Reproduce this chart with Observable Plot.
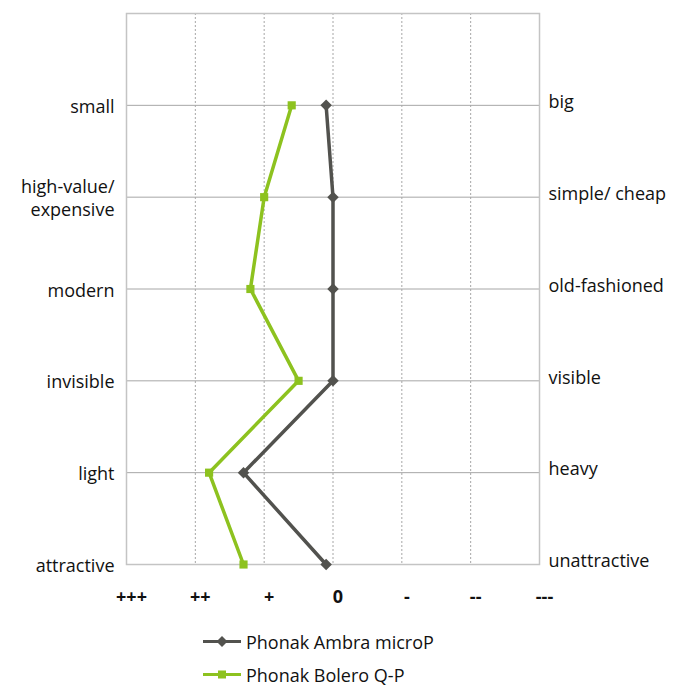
<!DOCTYPE html>
<html>
<head>
<meta charset="utf-8">
<script src="https://cdn.jsdelivr.net/npm/d3@7"></script>
<script src="https://cdn.jsdelivr.net/npm/@observablehq/plot@0.6"></script>
<style>
  html, body { margin: 0; padding: 0; background: #fff; }
  body { width: 681px; height: 688px; overflow: hidden; font-family: "Open Sans", sans-serif; }
  #legend { margin-left: 203px; margin-top: 5px; }
  .item { display: flex; align-items: center; height: 33px; font-size: 18px; line-height: 22px; color: #111; }
  .item svg { margin-right: 5px; }
</style>
</head>
<body>
<div id="chart"></div>
<div id="legend"></div>
<script>
const leftLabels = ["small", "high-value/\nexpensive", "modern", "invisible", "light", "attractive"];
const rightLabels = ["big", "simple/ cheap", "old-fashioned", "visible", "heavy", "unattractive"];
const scaleTicks = [3, 2, 1, 0, -1, -2, -3];
const scaleLabels = ["+++", "++", "+", "0", "-", "--", "---"];
const seriesNames = ["Phonak Ambra microP", "Phonak Bolero Q-P"];
const ambra = [0.1, 0, 0, 0, 1.3, 0.1];
const bolero = [0.6, 1.0, 1.2, 0.5, 1.8, 1.3];
const colors = ["#52524e", "#8dc21f"];
const symbols = ["diamond2", "square"];

const rows = leftLabels.map((_, i) => i + 1);
const ambraData = ambra.map((v, i) => ({series: seriesNames[0], row: i + 1, value: v}));
const boleroData = bolero.map((v, i) => ({series: seriesNames[1], row: i + 1, value: v}));

const chart = Plot.plot({
  width: 681,
  height: 620,
  marginLeft: 126,
  marginRight: 142,
  marginTop: 13,
  marginBottom: 56,
  style: {fontFamily: "Open Sans, sans-serif", fontSize: "18px", color: "#111", background: "#fff"},
  x: {domain: [3, -3]},
  y: {domain: [0, 6], reverse: true},
  marks: [
    Plot.gridX([2, 1, 0, -1, -2], {stroke: "#a6a6a6", strokeOpacity: 1, strokeDasharray: "2,2"}),
    Plot.ruleY(rows.slice(0, 5), {stroke: "#a6a6a6", strokeWidth: 1}),
    Plot.frame({stroke: "#c4c4c4", strokeWidth: 1.5}),
    Plot.axisX({ticks: scaleTicks, tickFormat: d => scaleLabels[scaleTicks.indexOf(d)], tickSize: 0, tickPadding: 26, dx: 5, fontWeight: "bold", fontSize: 18, label: null}),
    Plot.axisY({anchor: "left", ticks: rows, tickFormat: d => leftLabels[d - 1], tickSize: 0, tickPadding: 12, label: null, lineHeight: 1.3}),
    Plot.axisY({anchor: "right", ticks: rows, tickFormat: d => rightLabels[d - 1], tickSize: 0, tickPadding: 9, dy: -3, label: null}),
    Plot.line(ambraData, {x: "value", y: "row", stroke: colors[0], strokeWidth: 3.5}),
    Plot.line(boleroData, {x: "value", y: "row", stroke: colors[1], strokeWidth: 3.5}),
    Plot.dot(ambraData, {x: "value", y: "row", symbol: symbols[0], fill: colors[0], stroke: null, r: 5.2}),
    Plot.dot(boleroData, {x: "value", y: "row", symbol: symbols[1], fill: colors[1], stroke: null, r: 4.6})
  ]
});
document.getElementById("chart").appendChild(chart);

const legend = document.getElementById("legend");
seriesNames.forEach((name, i) => {
  const item = document.createElement("div");
  item.className = "item";
  const sym = i === 0
    ? `<path d="M19,1 L24.5,6.5 L19,12 L13.5,6.5Z" fill="${colors[i]}"/>`
    : `<rect x="15" y="2.5" width="8" height="8" fill="${colors[i]}"/>`;
  item.innerHTML = `<svg width="38" height="13"><line x1="0" x2="38" y1="6.5" y2="6.5" stroke="${colors[i]}" stroke-width="3"/>${sym}</svg><span>${name}</span>`;
  legend.appendChild(item);
});
</script>
</body>
</html>
